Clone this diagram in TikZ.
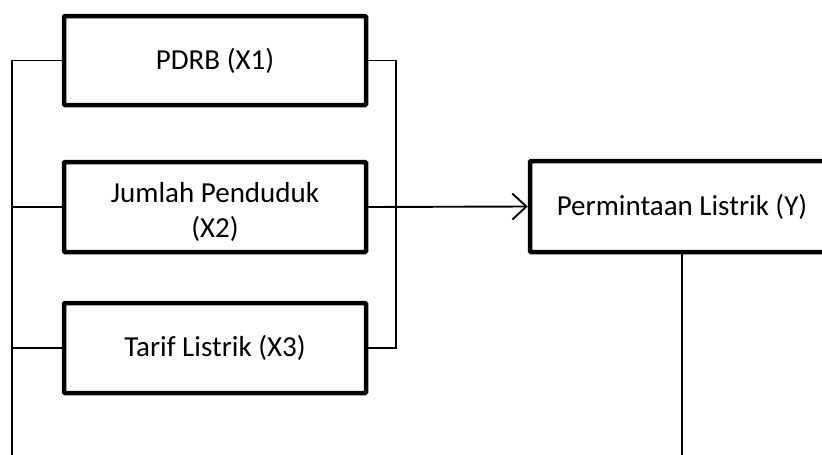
\documentclass[tikz,border=0pt]{standalone}
\usepackage{fontspec}
\setmainfont{Carlito}
\usetikzlibrary{arrows.meta}
\tikzset{
  varbox/.style={draw=black, line width=4.5pt, rounded corners=1pt, fill=white,
    minimum height=90pt, inner sep=0pt, align=center,
    font=\fontsize{29}{35}\selectfont},
  boxtext/.style={inner sep=0pt, align=center, font=\fontsize{29}{35}\selectfont},
  link/.style={draw=black, line width=1.9pt},
}
\begin{document}
\begin{tikzpicture}[x=1pt,y=-1pt]
\clip (0,0) rectangle (822,455);
\fill[white] (0,0) rectangle (822,455);
\node[varbox, minimum width=302pt, minimum height=89pt] (x1) at (215,60.5) {PDRB (X1)};
\node[varbox, minimum width=302pt] (x2) at (215,207) {};
\node[boxtext] (x2t) at ([yshift=-5pt]x2.center) {Jumlah Penduduk\\(X2)};
\node[varbox, minimum width=302pt] (x3) at (215,348) {Tarif Listrik (X3)};
\node[varbox, minimum width=304pt, minimum height=91pt] (y) at (682,206.5) {Permintaan Listrik (Y)};
\coordinate (lft) at (12,458);
\coordinate (rb) at (396,0);
\coordinate (bot) at (0,458);
% left bus
\draw[link] (lft) -- (lft |- x1.west) -- (x1.west);
\draw[link] (x2.west -| lft) -- (x2.west);
\draw[link] (x3.west -| lft) -- (x3.west);
% right bracket
\draw[link] (x1.east) -| (rb |- x3.east) -- (x3.east);
% arrow
\draw[link, -{Straight Barb[length=14pt,width=26pt,line width=1.9pt]}] (x2.east) -- (y.west);
% output line
\draw[link] (y.south) -- (y.south |- bot);
\end{tikzpicture}
\end{document}
